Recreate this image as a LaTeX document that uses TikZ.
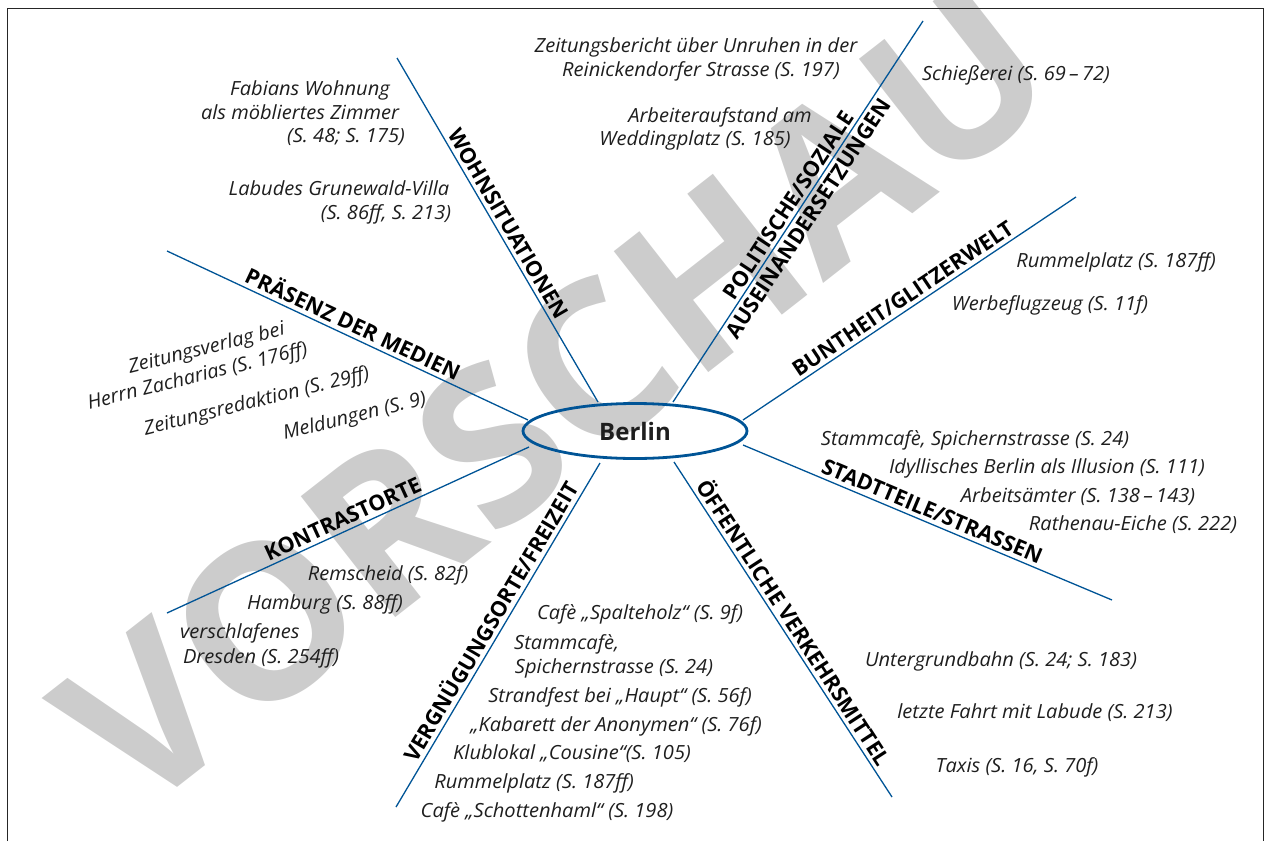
\documentclass[tikz,border=0pt]{standalone}
\usepackage{fontspec}
\usetikzlibrary{shapes.geometric}
\setmainfont{Open Sans}
\newfontfamily\itf[FakeStretch=1.03]{Open Sans}
\newfontfamily\bff{Open Sans}
\definecolor{lineblue}{RGB}{0,84,150}
\definecolor{txt}{RGB}{30,30,30}
\definecolor{wm}{RGB}{204,204,204}
\begin{document}
\begin{tikzpicture}[x=1pt,y=-1pt,
  spoke/.style={draw=lineblue,line width=1.3pt},
  cat/.style={font=\bff\bfseries\fontsize{21.5}{21.5}\selectfont,text=black,inner sep=0pt,text depth=0pt,sloped,pos=0.5},
  item/.style={font=\itf\itshape\fontsize{19.5}{19.5}\selectfont,text=txt,inner sep=0pt,anchor=base},
  itemw/.style={item,anchor=base west},
  rot/.style={item,rotate=14}]
\useasboundingbox (0,0) rectangle (1269,841);
% watermark
\node[font=\bff\bfseries\fontsize{215}{215}\selectfont,text=wm,rotate=38,inner sep=0pt] (wmark) at (555,395) {VORSCHAU};
% frame
\draw[line width=0.9pt,black!85] (7,841) -- (7,8) -- (1263,8) -- (1263,841);
% center
\node[ellipse,draw=lineblue,line width=2.8pt,minimum width=224pt,minimum height=55pt,inner sep=0pt,
      font=\bff\bfseries\fontsize{24}{24}\selectfont,text=txt] (berlin) at (635,431) {Berlin};
% spoke coordinates
\coordinate (w0) at (598,402); \coordinate (w1) at (397,58);
\coordinate (p0) at (673,402); \coordinate (p1) at (923,21);
\coordinate (b0) at (743,420); \coordinate (b1) at (1076,197);
\coordinate (s0) at (743,445); \coordinate (s1) at (1112,600);
\coordinate (o0) at (674,462); \coordinate (o1) at (892,797);
\coordinate (v0) at (600,463); \coordinate (v1) at (396,807);
\coordinate (k0) at (529,447); \coordinate (k1) at (167,613);
\coordinate (m0) at (528,420); \coordinate (m1) at (167,251);
% spokes with labels
\draw[spoke] (w0) -- node[cat,above=4pt] (lw) {WOHNSITUATIONEN} (w1);
\draw[spoke] (p0) -- node[cat,above=3pt] (lp) {POLITISCHE/SOZIALE}
                     node[cat,below=4pt,anchor=north] (lp2) {AUSEINANDERSETZUNGEN} (p1);
\draw[spoke] (b0) -- node[cat,above=4pt] (lb) {BUNTHEIT/GLITZERWELT} (b1);
\draw[spoke] (s0) -- node[cat,above=4pt] (ls) {STADTTEILE/STRASSEN} (s1);
\draw[spoke] (o0) -- node[cat,above=4pt] (lo) {ÖFFENTLICHE VERKEHRSMITTEL} (o1);
\draw[spoke] (v0) -- node[cat,above=4pt,pos=0.48] (lv) {VERGNÜGUNGSORTE/FREIZEIT} (v1);
\draw[spoke] (k0) -- node[cat,above=4pt] (lk) {KONTRASTORTE} (k1);
\draw[spoke] (m0) -- node[cat,above=4pt] (lm) {PRÄSENZ DER MEDIEN} (m1);
% Wohnsituationen
\node[item] (iw1) at (310,95) {Fabians Wohnung};
\node[item] (iw2) at (300,119) {als möbliertes Zimmer};
\node[item] (iw3) at (346,142) {(S. 48; S. 175)};
\node[item] (iw4) at (339,195) {Labudes Grunewald-Villa};
\node[item] (iw5) at (386,219) {(S. 86ff, S. 213)};
% Politische
\node[item] (ip1) at (696,52) {Zeitungsbericht über Unruhen in der};
\node[item] (ip2) at (701,76) {Reinickendorfer Strasse (S. 197)};
\node[item] (ip3) at (720,122) {Arbeiteraufstand am};
\node[item] (ip4) at (695,145) {Weddingplatz (S. 185)};
\node[item] (ip5) at (1016,80) {Schießerei (S. 69\,–\,72)};
% Buntheit
\node[item] (ib1) at (1116,267) {Rummelplatz (S. 187ff)};
\node[item] (ib2) at (1050,310) {Werbeflugzeug (S. 11f)};
% Stadtteile
\node[item] (is1) at (975,445) {Stammcafè, Spichernstrasse (S. 24)};
\node[item] (is2) at (1047,473) {Idyllisches Berlin als Illusion (S. 111)};
\node[item] (is3) at (1078,502) {Arbeitsämter (S. 138\,–\,143)};
\node[item] (is4) at (1133,530) {Rathenau-Eiche (S. 222)};
% Verkehrsmittel
\node[item] (io1) at (1001,666) {Untergrundbahn (S. 24; S. 183)};
\node[item] (io2) at (1035,718) {letzte Fahrt mit Labude (S. 213)};
\node[item] (io3) at (1017,772) {Taxis (S. 16, S. 70f)};
% Vergnuegung
\node[item] (iv1) at (640,619) {Cafè „Spalteholz“ (S. 9f)};
\node[itemw] (iv2) at (514,649) {Stammcafè,};
\node[item] (iv3) at (614,673) {Spichernstrasse (S. 24)};
\node[item] (iv4) at (620,702) {Strandfest bei „Haupt“ (S. 56f)};
\node[item] (iv5) at (616,731) {„Kabarett der Anonymen“ (S. 76f)};
\node[item] (iv6) at (572,759) {Klublokal „Cousine“(S. 105)};
\node[item] (iv7) at (534,788) {Rummelplatz (S. 187ff)};
\node[item] (iv8) at (547,817) {Cafè „Schottenhaml“ (S. 198)};
% Kontrastorte
\node[item] (ik1) at (388,580) {Remscheid (S. 82f)};
\node[item] (ik2) at (325,609) {Hamburg (S. 88ff)};
\node[itemw] (ik3) at (180,638) {verschlafenes};
\node[item] (ik4) at (261,663) {Dresden (S. 254ff)};
% Medien
\node[rot] (im1) at (208,354) {Zeitungsverlag bei};
\node[rot] (im2) at (199,382) {Herrn Zacharias (S. 176ff)};
\node[rot] (im3) at (258,407) {Zeitungsredaktion (S. 29ff)};
\node[rot] (im4) at (356,422) {Meldungen (S. 9)};
\end{tikzpicture}
\end{document}
